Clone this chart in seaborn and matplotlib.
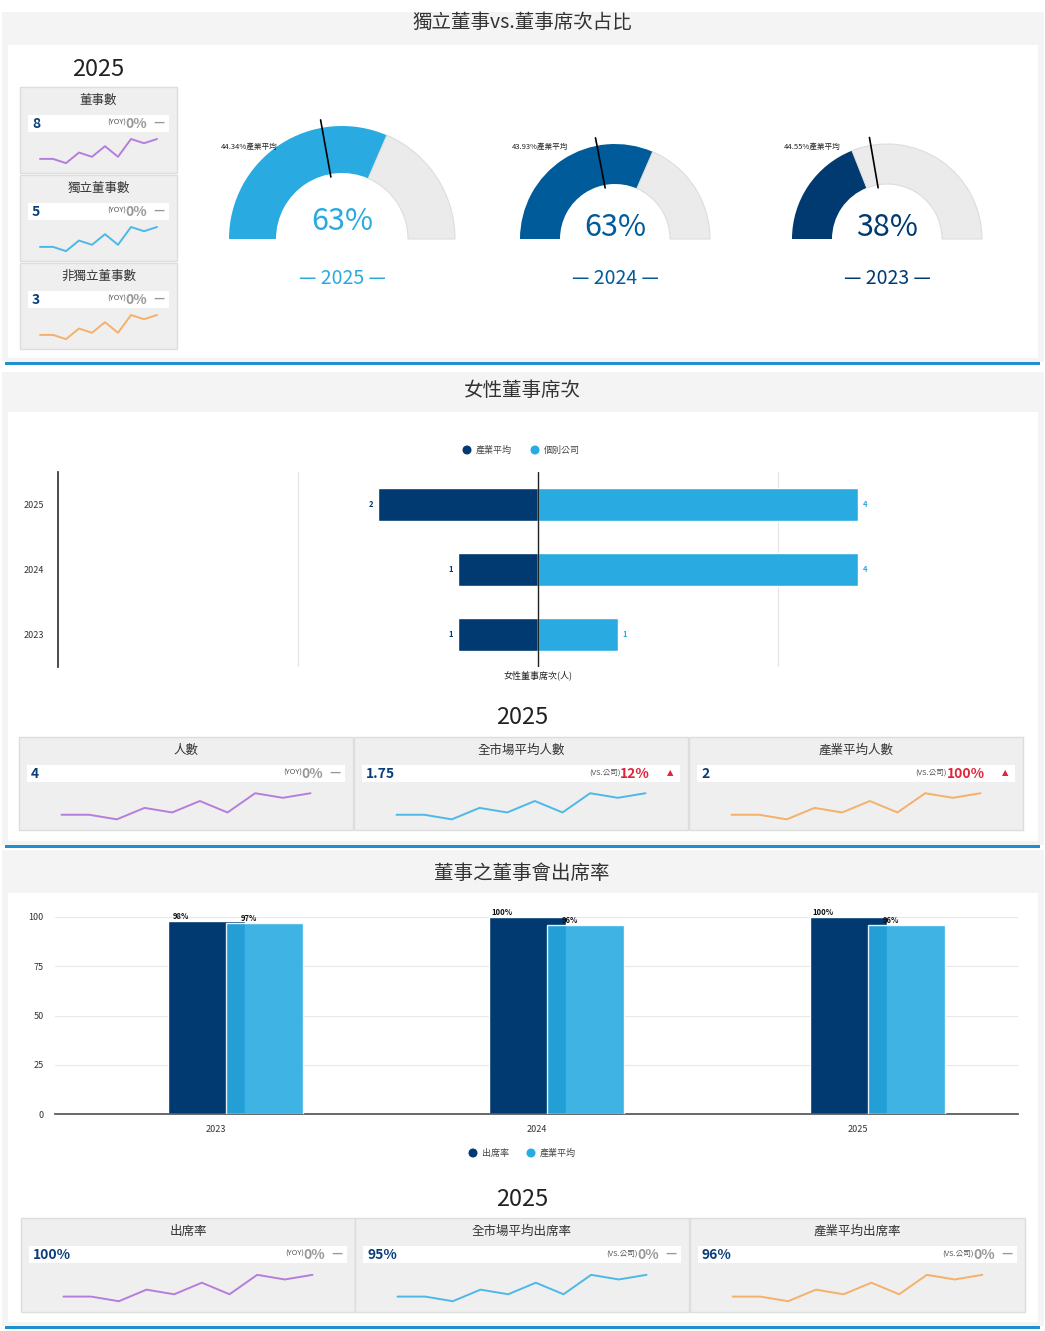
import numpy as np, pandas as pd
import matplotlib
matplotlib.use("Agg")
import matplotlib.pyplot as plt
from matplotlib.patches import Rectangle, Wedge
import seaborn as sns

sns.set_theme(style="white")
plt.rcParams['font.family'] = ['Noto Sans CJK TC', 'DejaVu Sans']

W, H = 1045, 1331
# ---- data ----
board_cards = ["董事數", "獨立董事數", "非獨立董事數"]
board_values = ["8", "5", "3"]
gauge_years = ["2025", "2024", "2023"]
gauge_pct = [63, 63, 38]
gauge_avg = [44.34, 43.93, 44.55]
fem_years = ["2025", "2024", "2023"]
fem_industry = [2, 1, 1]
fem_company = [4, 4, 1]
fem_cards = ["人數", "全市場平均人數", "產業平均人數"]
fem_values = ["4", "1.75", "2"]
fem_cmp = ["(YOY)", "(VS.公司)", "(VS.公司)"]
fem_pct = ["0%", "12%", "100%"]
att_years = ["2023", "2024", "2025"]
att_rate = [98, 100, 100]
att_industry = [97, 96, 96]
att_cards = ["出席率", "全市場平均出席率", "產業平均出席率"]
att_values = ["100%", "95%", "96%"]
att_cmp = ["(YOY)", "(VS.公司)", "(VS.公司)"]
att_pct = ["0%", "0%", "0%"]
spark = [1, 1, 0, 2.5, 1.5, 4, 1.5, 5.7, 4.7, 5.7]

DARK = "#003A70"; MID = "#005B9A"; LIGHT = "#29ABE2"; GRAY = "#EBEBEB"
NAVY = "#0B3D78"

fig = plt.figure(figsize=(W/100, H/100), dpi=100)
bg = fig.add_axes([0, 0, 1, 1]); bg.set_xlim(0, W); bg.set_ylim(H, 0); bg.axis("off")

def P(x, y, w, h):
    a = fig.add_axes([x/W, 1-(y+h)/H, w/W, h/H]); a.patch.set_alpha(0); return a

def rect(x, y, w, h, fc, ec="none", lw=0, z=0):
    bg.add_patch(Rectangle((x, y), w, h, fc=fc, ec=ec, lw=lw, zorder=z))

# panels
for (y0, y1, hb, title, ty) in [(12, 362, 33, "獨立董事vs.董事席次占比", 22),
                               (372, 845, 40, "女性董事席次", 390),
                               (850, 1326, 43, "董事之董事會出席率", 873)]:
    rect(2, y0, 1042, y1-y0, "#F4F4F4")
    rect(8, y0+hb, 1030, y1-y0-hb-4, "white")
    rect(5, y1, 1035, 3, "#1F8FD0")
    bg.text(522, ty, title, ha="center", va="center", fontsize=14, color="#333")

spark_colors = ["#B57EDC", "#4DB8E8", "#F5B06A"]

def card(x, y, w, h, title, value, cmp, pct, pcol, arrow, lc, vfs=10):
    rect(x, y, w, h, "#EFEFEF", "#DDDDDD", 1, 1)
    bg.text(x+w/2, y+13, title, ha="center", va="center", fontsize=9, color="#333", zorder=3)
    rect(x+8, y+28, w-16, 17, "white", z=2)
    bg.text(x+12, y+37, value, ha="left", va="center", fontsize=vfs, fontweight="bold", color=NAVY, zorder=3)
    bg.text(x+w-30 - (8 if arrow == "up" else 0), y+37, pct, ha="right", va="center", fontsize=10,
            fontweight="bold", color=pcol, zorder=3)
    off = 8.5*len(pct) + 34 + (8 if arrow == "up" else 0)
    bg.text(x+w-off, y+36, cmp, ha="right", va="center", fontsize=5.5, color="#555", zorder=3)
    if arrow == "up":
        bg.text(x+w-18, y+36, "▲", ha="center", va="center", fontsize=6, color=pcol, zorder=3,
                family=["DejaVu Sans"])
    else:
        bg.text(x+w-18, y+36, "—", ha="center", va="center", fontsize=8, fontweight="bold",
                color="#999", zorder=3, family=["DejaVu Sans"])
    a = P(x+w*0.09, y+h*0.58, w*0.82, h*0.33)
    sns.lineplot(x=list(range(len(spark))), y=spark, ax=a, color=lc, lw=1.4)
    a.set_ylim(-0.5, 6.2); a.axis("off")

# top left cards
bg.text(98, 69, "2025", ha="center", va="center", fontsize=17, color="#222")
for i, (t, v) in enumerate(zip(board_cards, board_values)):
    card(20, 87+i*88, 157, 86, t, v, "(YOY)", "0%", "#999", "flat", spark_colors[i])

# gauges
gcols = [LIGHT, MID, DARK]
gcent = [(342, 239), (615, 239), (887, 239)]
grad = [(113, 66), (95, 55), (95, 55)]
for (cx, cy), (r, ri), p, av, col, yr, i in zip(gcent, grad, gauge_pct, gauge_avg, gcols, gauge_years, range(3)):
    f = 180 - 180*p/100
    bg.add_patch(Wedge((cx, cy), r, -180, -f, width=r-ri, fc=col, ec="none", zorder=2))
    bg.add_patch(Wedge((cx, cy), r, -f, 0, width=r-ri, fc=GRAY, ec="#DDDDDD", lw=0.8, zorder=2))
    a = np.deg2rad(180 - 180*av/100)
    bg.plot([cx+(ri-3)*np.cos(a), cx+(r+8)*np.cos(a)], [cy-(ri-3)*np.sin(a), cy-(r+8)*np.sin(a)],
            color="black", lw=1.2, zorder=3)
    bg.text(cx-r+20 if i else cx-r+20, 147, f"{av:.2f}%產業平均", ha="center", va="center", fontsize=5.5, color="#222")
    bg.text(cx, cy-17 if i == 0 else cy-11, f"{p}%", ha="center", va="center", fontsize=22, color=col)
    bg.text(cx, 278, f"— {yr} —", ha="center", va="center", fontsize=14, color=col)

# female directors bar chart
bg.scatter([467, 535], [450, 450], s=30, c=[DARK, LIGHT], zorder=3)
bg.text(476, 450, "產業平均", va="center", fontsize=6.5, color="#444")
bg.text(544, 450, "個別公司", va="center", fontsize=6.5, color="#444")
ax = P(58, 472, 960, 195)
df_i = pd.DataFrame({"year": fem_years, "v": [-v for v in fem_industry]})
df_c = pd.DataFrame({"year": fem_years, "v": fem_company})
sns.barplot(data=df_i, y="year", x="v", orient="h", color=DARK, width=0.5, saturation=1, ax=ax)
sns.barplot(data=df_c, y="year", x="v", orient="h", color=LIGHT, width=0.5, saturation=1, ax=ax)
ax.set_xlim(-6, 6)
ax.set_xticks([-3, 3, 6]); ax.set_xticklabels([])
ax.grid(axis="x", color="#E5E5E5", lw=0.8)
ax.axvline(0, color="#222", lw=1)
for s in ["top", "right", "bottom"]: ax.spines[s].set_visible(False)
ax.spines["left"].set_color("#333")
ax.set_ylabel(""); ax.set_xlabel("")
ax.tick_params(axis="y", labelsize=6.5, colors="#333", length=0, pad=10)
for j in range(3):
    ax.text(-fem_industry[j]-0.06, j, str(fem_industry[j]), ha="right", va="center", fontsize=5.5, color=DARK, fontweight="bold")
    ax.text(fem_company[j]+0.06, j, str(fem_company[j]), ha="left", va="center", fontsize=5.5, color=LIGHT, fontweight="bold")
bg.text(538, 675, "女性董事席次(人)", ha="center", va="center", fontsize=6.5, color="#222")

bg.text(522, 717, "2025", ha="center", va="center", fontsize=17, color="#222")
for i in range(3):
    x0 = [19, 354, 689][i]
    col = "#999" if fem_pct[i] == "0%" else "#E0253A"
    card(x0, 737, 334, 93, fem_cards[i], fem_values[i], fem_cmp[i], fem_pct[i], col,
         "flat" if fem_pct[i] == "0%" else "up", spark_colors[i])

# attendance bar chart
ax2 = P(55, 917, 963, 197)
x = np.arange(3)
ax2.bar(x-0.028, att_rate, width=0.24, color=DARK, zorder=2)
ax2.bar(x+0.153, att_industry, width=0.24, color=LIGHT, alpha=0.9, zorder=3)
ax2.set_xlim(-0.5, 2.5); ax2.set_ylim(0, 100)
ax2.set_xticks(x); ax2.set_xticklabels(att_years)
ax2.set_yticks([0, 25, 50, 75, 100])
ax2.grid(axis="y", color="#E8E8E8", lw=0.8)
for s in ["top", "right", "left"]: ax2.spines[s].set_visible(False)
ax2.spines["bottom"].set_color("#555")
ax2.tick_params(labelsize=6.5, colors="#333", length=0, pad=8)
for j in range(3):
    ax2.text(x[j]-0.028-0.08, att_rate[j], f"{att_rate[j]}%", ha="center", va="bottom", fontsize=5.5, fontweight="bold", color="#111")
    ax2.text(x[j]+0.153-0.05, att_industry[j], f"{att_industry[j]}%", ha="center", va="bottom", fontsize=5.5, fontweight="bold", color="#111")
bg.scatter([473, 531], [1153, 1153], s=30, c=[DARK, LIGHT], zorder=3)
bg.text(482, 1153, "出席率", va="center", fontsize=6.5, color="#444")
bg.text(540, 1153, "產業平均", va="center", fontsize=6.5, color="#444")

bg.text(522, 1199, "2025", ha="center", va="center", fontsize=17, color="#222")
for i in range(3):
    x0 = [21, 355, 690][i]
    card(x0, 1218, 334 if i < 2 else 335, 94, att_cards[i], att_values[i], att_cmp[i], att_pct[i],
         "#999", "flat", spark_colors[i])

fig.savefig("out.png", dpi=100)
